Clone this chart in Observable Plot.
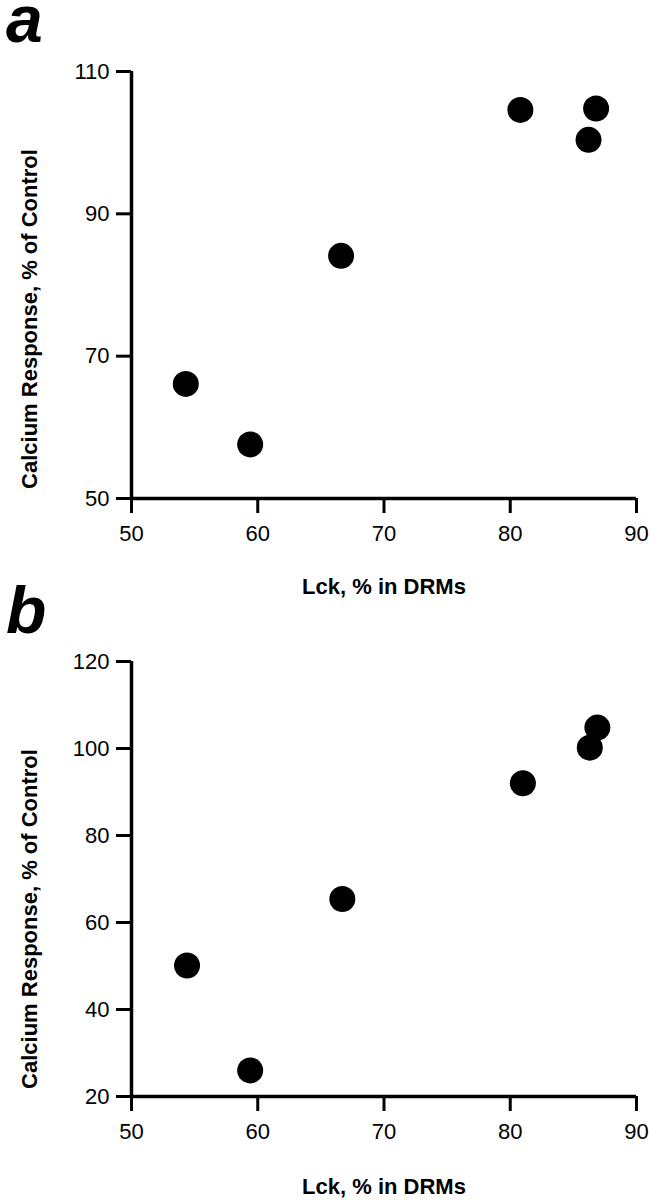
<!DOCTYPE html>
<html>
<head>
<meta charset="utf-8">
<script src="https://cdn.jsdelivr.net/npm/d3@7"></script>
<script src="https://cdn.jsdelivr.net/npm/@observablehq/plot@0.6"></script>
<style>
  html, body { margin: 0; padding: 0; background: white; }
  .panel { position: relative; width: 650px; height: 600px; }
  .panel svg { display: block; overflow: visible; }
  .letter { position: absolute; left: 6px; z-index: 2; font-family: "Liberation Sans", Arial, sans-serif;
            font-weight: 900; font-style: italic; font-size: 66px; line-height: 20px; color: black; }
</style>
</head>
<body>
<div id="a" class="panel"><div class="letter" style="top:9px">a</div></div>
<div id="b" class="panel"><div class="letter" style="top:0px">b</div></div>
<script>
// Panel a data
const lckA = [54.3, 59.4, 66.6, 80.8, 86.8, 86.2];
const calciumA = [66.1, 57.6, 84.1, 104.6, 104.8, 100.4];
// Panel b data
const lckB = [54.4, 59.4, 66.7, 81.0, 86.9, 86.3];
const calciumB = [50.1, 26.0, 65.4, 92.0, 104.8, 100.2];

const xTicks = [50, 60, 70, 80, 90];
const yTicksA = [50, 70, 90, 110];
const yTicksB = [20, 40, 60, 80, 100, 120];
const xTitle = "Lck, % in DRMs";
const yTitle = "Calcium Response, % of Control";

function panel(xs, ys, yTicks, yDomain, mTop, mBottom, yLabelDy, xLabelDy) {
  const data = xs.map((x, i) => ({x, y: ys[i]}));
  return Plot.plot({
    width: 650,
    height: 600,
    marginTop: mTop,
    marginBottom: mBottom,
    marginLeft: 131,
    marginRight: 14,
    style: {fontFamily: "'Liberation Sans', Arial, sans-serif", fontSize: "22px", color: "black", background: "white", overflow: "visible"},
    x: {domain: [50, 90]},
    y: {domain: yDomain},
    marks: [
      Plot.axisX({ticks: xTicks, tickSize: 15, tickPadding: 12, strokeWidth: 3, label: null, fontSize: 22}),
      Plot.axisY({ticks: yTicks, tickSize: 15, tickPadding: 7, strokeWidth: 3, label: null, fontSize: 22}),
      Plot.ruleX([50], {strokeWidth: 3.5, stroke: "black"}),
      Plot.ruleY([yDomain[0]], {strokeWidth: 3.5, stroke: "black"}),
      Plot.dot(data, {x: "x", y: "y", r: 13, fill: "black", stroke: null}),
      Plot.text([xTitle], {frameAnchor: "bottom", lineAnchor: "middle", textAnchor: "middle", dy: xLabelDy, fontWeight: "bold", fontSize: 22, fill: "black"}),
      Plot.text([yTitle], {frameAnchor: "left", lineAnchor: "middle", textAnchor: "middle", dx: -102, dy: yLabelDy, rotate: -90, fontWeight: "bold", fontSize: 22, fill: "black"})
    ]
  });
}

document.getElementById("a").appendChild(panel(lckA, calciumA, yTicksA, [50, 110], 71, 102, 34, 88));
document.getElementById("b").appendChild(panel(lckB, calciumB, yTicksB, [20, 120], 61, 104, 40, 90));
</script>
</body>
</html>
